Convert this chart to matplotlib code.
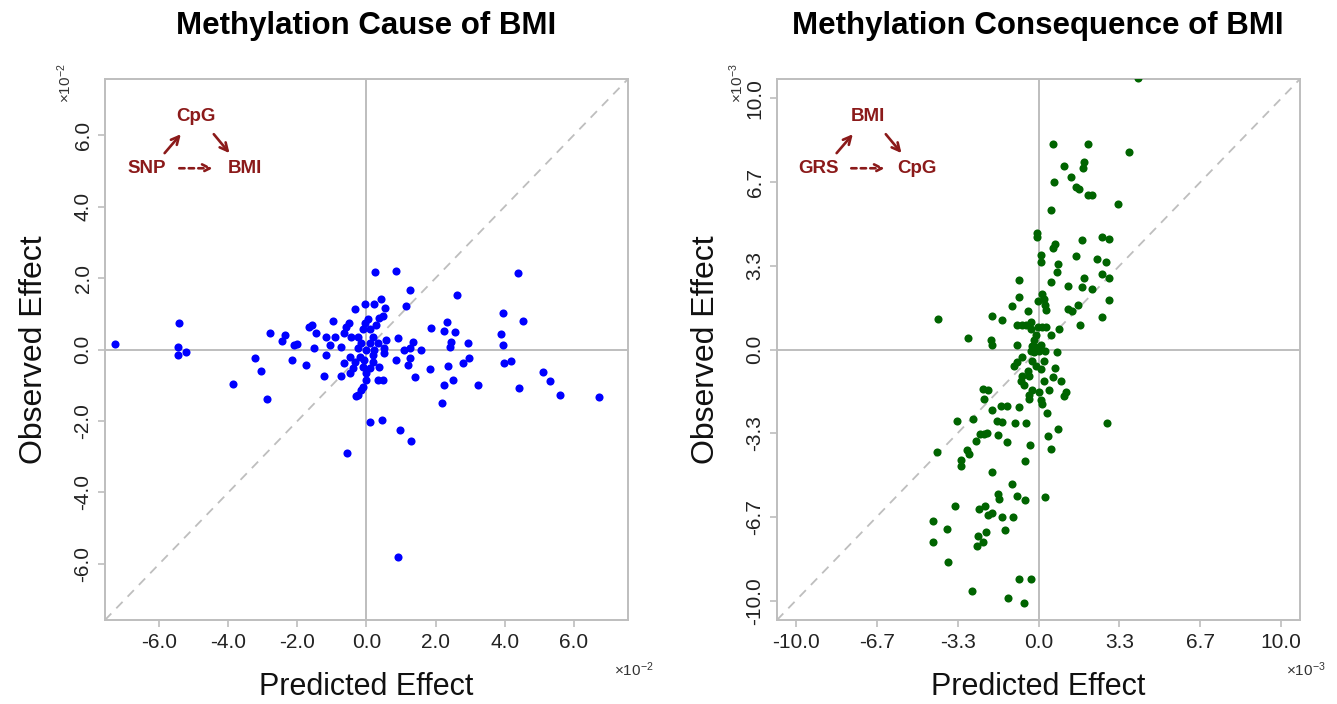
#!/usr/bin/env python3
"""Observed vs predicted methylation effects for BMI, two panels side by side."""

import matplotlib

matplotlib.use("Agg")
import matplotlib.pyplot as plt

plt.rcParams["font.family"] = ["Liberation Sans", "DejaVu Sans"]
plt.rcParams["mathtext.fontset"] = "custom"
plt.rcParams["mathtext.rm"] = "Liberation Sans"
plt.rcParams["mathtext.it"] = "Liberation Sans:italic"

# left panel, units of 1e-2
CAUSE_PRED = [
    -7.29, -5.42, -5.46, -5.45, -5.22, -3.23, -3.05, -3.86, -2.87, -2.79,
    -2.37, -2.45, -2.15, -2.09, -2.01, -1.75, -1.67, -1.57, -1.46, -1.52,
    -0.56, 0.11, 0.24, 0.45, 0.85, 0.98, 1.27, 1.30, 1.84, 1.87,
    2.20, 2.23, 2.33, 2.24, 2.36, 2.43, 2.46, 2.49, 2.57, 2.63,
    2.79, 2.94, 2.96, 3.23, 3.89, 3.94, 3.94, 3.98, 4.17, 4.40,
    4.41, 4.53, 5.11, 5.31, 5.60, 6.73, 0.90,
    0.42, 0.23, -0.03, -0.33, 0.54, 1.15, 0.47, 0.37, -0.97, -0.51,
    -0.59, -0.03, 0.04, 0.28, -0.11, 0.09, -0.64, -0.44, -0.92, -1.17,
    -0.25, 0.18, 0.91, 1.34, 0.57, -1.07, -0.73, -0.15, 0.09, 0.33,
    -0.25, -0.01, 0.23, 0.52, 1.10, 1.25, 1.58, -1.17, -0.49, -0.20,
    0.18, 0.52, -0.32, -0.06, 0.18, 0.86, 1.25, -0.64, 1.19, -0.39,
    -0.11, 0.09, 0.37, -0.49, -0.73, -0.01, -1.24, 0.33, 0.47, -0.01,
    1.39, -0.11, -0.15, -0.25, -0.30,
]
CAUSE_OBS = [
    0.14, 0.75, 0.08, -0.15, -0.08, -0.24, -0.60, -0.96, -1.39, 0.46,
    0.41, 0.23, -0.30, 0.13, 0.15, -0.42, 0.63, 0.68, 0.47, 0.05,
    -2.90, -2.03, 2.17, -1.98, 2.20, -2.24, 1.67, -2.55, -0.55, 0.60,
    -1.51, 0.51, 0.78, -0.98, -0.45, 0.08, 0.20, -0.85, 0.49, 1.52,
    -0.37, 0.18, -0.25, -1.00, 0.42, 1.01, 0.13, -0.37, -0.31, 2.14,
    -1.09, 0.79, -0.63, -0.89, -1.26, -1.34, -5.80,
    1.42, 1.28, 1.28, 1.13, 1.17, 1.21, 0.93, 0.87, 0.80, 0.74,
    0.63, 0.73, 0.84, 0.68, 0.56, 0.56, 0.45, 0.35, 0.35, 0.35,
    0.35, 0.35, 0.31, 0.21, 0.26, 0.12, 0.07, 0.17, 0.17, 0.17,
    0.03, -0.02, 0.00, 0.03, -0.02, 0.03, 0.00, -0.16, -0.20, -0.20,
    -0.16, -0.11, -0.34, -0.30, -0.34, -0.30, -0.25, -0.37, -0.44, -0.53,
    -0.48, -0.53, -0.48, -0.67, -0.74, -0.67, -0.74, -0.86, -0.86, -0.86,
    -0.78, -1.04, -1.14, -1.28, -1.30,
]

# right panel, units of 1e-3
CONSEQ_PRED = [
    4.10, 0.60, 2.04, 3.73, 1.03, 1.88, 1.84, 1.33, 0.64, 1.56,
    1.67, 2.04, 2.19, 3.28, 0.53, -0.05, -0.05, 0.70, 0.60, 1.81,
    2.61, 2.92, 0.10, 0.12, 1.54, 2.40, 2.77, 0.81, 0.75, 2.61,
    2.89, 1.87, 2.91, 2.63, -4.14, -2.89,
    -0.80, 0.51, 1.22, 1.81, 2.20, -0.82, 0.16, 0.23, -0.04, 0.27,
    0.30, -1.10, -0.45, 1.20, 1.37, 1.61, -1.92, -1.51, -0.87, -0.66,
    -0.52, -0.32, -0.32, -0.04, 0.16, 0.30, 0.85, 1.70, 0.51, -0.11,
    -1.96, -1.90, -0.18, -0.87, -0.27, -0.11, 0.10, -0.32, -0.18, 0.03,
    0.27, 0.78, -0.66, -0.25, 0.23, -0.87, -0.11, -1.00, 0.10, 0.67,
    -0.45, -0.66, -0.38, 0.58, -0.73, 0.23, 0.92, -0.59, -0.25, 0.03,
    0.44, 1.13, -0.38, 1.06, -0.38, 0.10, 0.16, -1.55, -1.28, -0.80,
    -2.30, -2.10, -2.24, -1.93, -3.37, -2.70, -1.70, -1.50, -0.97, -0.52,
    2.83, 0.36, 0.81, -2.58, -2.41, -2.25, -2.11, -1.67, -1.29, -0.36,
    0.41, 0.53, -4.20, -2.96, -2.85, -3.20, -3.21, -0.56, -1.93, -1.11,
    -1.67, -1.62, -0.88, -0.55, 0.27, -3.42, -2.47, -2.21, -2.07, -1.93,
    -1.50, -1.04, -4.35, -3.77, -4.35, -2.15, -1.37, -2.48, -2.28, -2.52,
    -3.72, -0.80, -0.29, -2.72, -1.26, -0.60,
]
CONSEQ_OBS = [
    10.80, 8.19, 8.19, 7.85, 7.32, 7.46, 7.21, 6.85, 6.68, 6.47,
    6.41, 6.16, 6.16, 5.79, 5.56, 4.62, 4.46, 4.22, 4.06, 4.36,
    4.46, 4.41, 3.76, 3.47, 3.72, 3.60, 3.47, 3.39, 3.08, 2.99,
    2.84, 2.83, 1.97, 1.30, 1.22, 0.46,
    2.75, 2.68, 2.51, 2.48, 2.42, 2.08, 2.22, 2.02, 1.93, 1.79,
    1.58, 1.75, 1.53, 1.62, 1.55, 1.79, 1.35, 1.16, 0.96, 0.96,
    0.96, 1.09, 0.82, 0.89, 0.89, 0.89, 0.80, 0.96, 0.56, 0.56,
    0.36, 0.16, 0.36, 0.16, 0.12, 0.09, 0.16, -0.04, -0.11, -0.04,
    -0.04, -0.08, -0.31, -0.44, -0.44, -0.50, -0.64, -0.64, -0.77, -0.73,
    -0.84, -1.04, -1.04, -1.10, -1.24, -1.24, -1.24, -1.43, -1.63, -1.70,
    -1.63, -1.70, -1.83, -1.87, -1.97, -2.03, -2.16, -2.23, -2.23, -2.30,
    -1.58, -1.63, -1.98, -2.39, -2.83, -2.78, -2.86, -2.88, -2.91, -2.91,
    -2.92, -2.54, -3.15, -3.63, -3.36, -3.36, -3.32, -3.40, -3.69, -3.80,
    -3.45, -3.98, -4.10, -4.02, -4.16, -4.40, -4.63, -4.45, -4.86, -5.37,
    -5.75, -5.95, -5.84, -5.99, -5.88, -6.22, -6.37, -6.25, -6.57, -6.52,
    -6.68, -6.68, -6.81, -7.14, -7.66, -7.25, -7.18, -7.44, -7.66, -7.81,
    -8.47, -9.12, -9.15, -9.60, -9.91, -10.09,
]

CAUSE_TICKS = [-6.0, -4.0, -2.0, 0.0, 2.0, 4.0, 6.0]
CONSEQ_TICKS = [-10.0, -20 / 3, -10 / 3, 0.0, 10 / 3, 20 / 3, 10.0]

GREY = "#BEBEBE"
LABEL_COLOR = "#222222"
DIAGRAM_RED = "#8B1A1A"


def draw_diagram(ax, top, left, right):
    kw = dict(transform=ax.transAxes, color=DIAGRAM_RED, fontsize=13.5,
              fontweight="bold", ha="center", va="center")
    ax.text(0.174, 0.931, top, **kw)
    ax.text(0.080, 0.835, left, **kw)
    ax.text(0.267, 0.835, right, **kw)
    arrow = dict(arrowstyle="->", color=DIAGRAM_RED, lw=1.9, shrinkA=0, shrinkB=0,
                 mutation_scale=14)
    ax.annotate("", xy=(0.145, 0.898), xytext=(0.114, 0.863),
                xycoords="axes fraction", arrowprops=arrow)
    ax.annotate("", xy=(0.238, 0.863), xytext=(0.208, 0.898),
                xycoords="axes fraction", arrowprops=arrow)
    ax.annotate("", xy=(0.206, 0.835), xytext=(0.142, 0.835),
                xycoords="axes fraction",
                arrowprops=dict(arrow, linestyle=(0, (2.0, 1.6))))


def style_panel(ax, lim, ticks, labels, exponent):
    ax.set_xlim(-lim, lim)
    ax.set_ylim(-lim, lim)
    ax.axhline(0, color=GREY, lw=1.4, zorder=1)
    ax.axvline(0, color=GREY, lw=1.4, zorder=1)
    ax.axline((0, 0), slope=1, color=GREY, lw=1.3, dashes=(5, 4), zorder=1)
    for spine in ax.spines.values():
        spine.set_color(GREY)
        spine.set_linewidth(1.4)
    ax.set_xticks(ticks)
    ax.set_yticks(ticks)
    ax.set_xticklabels(labels)
    ax.set_yticklabels(labels, rotation=90, va="center")
    ax.tick_params(length=5, width=1.2, color=GREY, labelsize=15,
                   labelcolor=LABEL_COLOR)
    ax.tick_params(axis="x", pad=4)
    ax.tick_params(axis="y", pad=4)

    ax.set_xlabel("Predicted Effect", fontsize=22, color="#111111")
    ax.xaxis.set_label_coords(0.5, -0.124)
    ax.xaxis.label.set_va("center")
    ax.set_ylabel("Observed Effect", fontsize=23, color="#111111")
    ax.yaxis.set_label_coords(-0.135, 0.5)
    ax.yaxis.label.set_va("center")

    mult = rf"$\times 10^{{-{exponent}}}$"
    ax.text(1.012, -0.092, mult, transform=ax.transAxes, fontsize=11,
            color="#333333", ha="center", va="center")
    ax.text(-0.077, 0.993, mult, transform=ax.transAxes, fontsize=11,
            color="#333333", ha="center", va="center", rotation=90)


def main():
    fig = plt.figure(figsize=(13.37, 7.04), dpi=100)
    ax_l = fig.add_axes([105 / 1337, 84 / 704, 523 / 1337, 541 / 704])
    ax_r = fig.add_axes([777 / 1337, 84 / 704, 523 / 1337, 541 / 704])

    ax_l.scatter(CAUSE_PRED, CAUSE_OBS, s=34, color="#0000FF", linewidths=0, zorder=3)
    style_panel(ax_l, 7.57, CAUSE_TICKS, [f"{t:.1f}" for t in CAUSE_TICKS], 2)
    draw_diagram(ax_l, "CpG", "SNP", "BMI")

    ax_r.scatter(CONSEQ_PRED, CONSEQ_OBS, s=34, color="#006400", linewidths=0, zorder=3)
    style_panel(ax_r, 10.77, CONSEQ_TICKS, [f"{t:.1f}" for t in CONSEQ_TICKS], 3)
    draw_diagram(ax_r, "BMI", "GRS", "CpG")

    fig.text(366 / 1337, 1 - 26 / 704, "Methylation Cause of BMI", fontsize=22.5,
             fontweight="bold", ha="center", va="center")
    fig.text(1038 / 1337, 1 - 26 / 704, "Methylation Consequence of BMI", fontsize=22.5,
             fontweight="bold", ha="center", va="center")

    fig.savefig("out.png", dpi=100)
    plt.close(fig)


if __name__ == "__main__":
    main()
